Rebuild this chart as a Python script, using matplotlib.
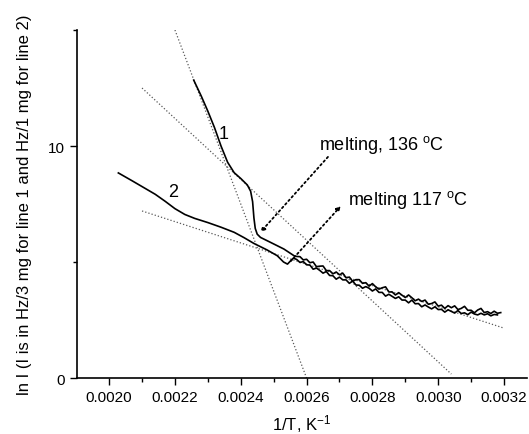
import matplotlib
matplotlib.use("Agg")
import matplotlib.pyplot as plt
from matplotlib.ticker import MultipleLocator, FormatStrFormatter

plt.rcParams['font.family'] = ['Liberation Sans', 'DejaVu Sans']
plt.rcParams['mathtext.fontset'] = 'custom'
plt.rcParams['mathtext.rm'] = 'Liberation Sans'
plt.rcParams['mathtext.it'] = 'Liberation Sans:italic'

# common 1/T grid of the noisy tail
tail_x = [0.00257, 0.00258, 0.00259, 0.00260, 0.00261, 0.00262, 0.00263, 0.00264,
          0.00265, 0.00266, 0.00267, 0.00268, 0.00269, 0.00270, 0.00271, 0.00272,
          0.00273, 0.00274, 0.00275, 0.00276, 0.00277, 0.00278, 0.00279, 0.00280,
          0.00281, 0.00282, 0.00283, 0.00284, 0.00285, 0.00286, 0.00287, 0.00288,
          0.00289, 0.00290, 0.00291, 0.00292, 0.00293, 0.00294, 0.00295, 0.00296,
          0.00297, 0.00298, 0.00299, 0.00300, 0.00301, 0.00302, 0.00303, 0.00304,
          0.00305, 0.00306, 0.00307, 0.00308, 0.00309, 0.00310, 0.00311, 0.00312,
          0.00313, 0.00314, 0.00315, 0.00316, 0.00317, 0.00318, 0.00319]

# line 1 (3 mg)
head1_x = [0.002257, 0.00228, 0.0023, 0.00232, 0.00234, 0.00236, 0.00238, 0.0024,
           0.00242, 0.00243, 0.002436, 0.00244, 0.002444, 0.00245, 0.00246, 0.00249,
           0.002531, 0.002562]
head1_y = [12.84, 12.15, 11.5, 10.8, 10.0, 9.3, 8.85, 8.6,
           8.32, 8.05, 7.6, 6.9, 6.45, 6.2, 6.06, 5.85,
           5.56, 5.27]
tail1_y = [5.24, 5.23, 5.09, 5.12, 4.97, 5.00, 4.80, 4.82, 4.83, 4.63, 4.63, 4.49,
           4.57, 4.45, 4.52, 4.32, 4.35, 4.17, 4.24, 4.24, 4.08, 4.11, 3.96, 4.07,
           3.93, 3.83, 3.89, 3.93, 3.71, 3.71, 3.58, 3.68, 3.57, 3.47, 3.58, 3.46,
           3.33, 3.40, 3.30, 3.36, 3.18, 3.21, 3.28, 3.10, 3.14, 3.00, 3.12, 3.03,
           3.11, 2.95, 3.00, 3.09, 2.92, 2.92, 2.81, 2.93, 3.00, 2.82, 2.86, 2.78,
           2.88, 2.79, 2.82]

# line 2 (1 mg)
head2_x = [0.002028, 0.00207, 0.002105, 0.00214, 0.00217, 0.0022, 0.00223, 0.00226,
           0.0023, 0.00234, 0.00238, 0.00241, 0.00244, 0.00248, 0.002511, 0.00253,
           0.002542, 0.002552, 0.00256]
head2_y = [8.84, 8.50, 8.21, 7.92, 7.62, 7.30, 7.05, 6.88,
           6.70, 6.50, 6.28, 6.05, 5.80, 5.52, 5.27, 5.0,
           4.91, 5.06, 5.17]
tail2_y = [5.11, 4.98, 5.02, 4.88, 4.87, 4.69, 4.74, 4.64, 4.52, 4.59, 4.42, 4.41,
           4.26, 4.35, 4.23, 4.23, 4.08, 4.18, 4.01, 4.00, 3.87, 3.94, 3.87, 3.75,
           3.84, 3.69, 3.69, 3.53, 3.61, 3.52, 3.43, 3.50, 3.36, 3.36, 3.24, 3.36,
           3.20, 3.21, 3.07, 3.15, 3.06, 2.98, 3.07, 2.95, 2.96, 2.84, 2.94, 2.87,
           2.80, 2.91, 2.78, 2.81, 2.73, 2.84, 2.76, 2.72, 2.79, 2.72, 2.77, 2.68,
           2.74, 2.72]

# dotted straight-line fits (two end points each)
fit_x = [[0.0022, 0.0026], [0.0021, 0.00304], [0.0021, 0.0032]]
fit_y = [[15.0, 0.0], [12.5, 0.17], [7.2, 2.15]]

fig = plt.figure(figsize=(5.29, 4.35), dpi=100)
ax = fig.add_axes([0.1456, 0.1287, 0.8507, 0.80])

for fx, fy in zip(fit_x, fit_y):
    ax.plot(fx, fy, ls=':', color='0.35', lw=0.9)

ax.plot(head1_x + tail_x, head1_y + tail1_y, color='black', lw=1.2)
ax.plot(head2_x + tail_x[:len(tail2_y)], head2_y + tail2_y, color='black', lw=1.2)

ax.text(0.002348, 10.52, '1', fontsize=13, ha='center', va='center')
ax.text(0.002195, 8.02, '2', fontsize=13, ha='center', va='center')

ax.annotate('', xy=(0.00246, 6.29), xytext=(0.002665, 9.53),
            arrowprops=dict(arrowstyle='-|>', ls=':', lw=1.3, color='black',
                            mutation_scale=6, shrinkA=0, shrinkB=0))
ax.annotate('', xy=(0.002704, 7.41), xytext=(0.002552, 5.04),
            arrowprops=dict(arrowstyle='-|>', ls=':', lw=1.3, color='black',
                            mutation_scale=6, shrinkA=0, shrinkB=0))
ax.text(0.002637, 9.87, r'melting, 136 $^{\mathrm{o}}$C', fontsize=13, va='baseline')
ax.text(0.002726, 7.5, r'melting 117 $^{\mathrm{o}}$C', fontsize=13, va='baseline')

ax.set_xlim(0.0019024, 0.00327)
ax.set_ylim(0, 15)
ax.xaxis.set_major_locator(MultipleLocator(0.0002))
ax.xaxis.set_minor_locator(MultipleLocator(0.0001))
ax.xaxis.set_major_formatter(FormatStrFormatter('%.4f'))
ax.yaxis.set_major_locator(MultipleLocator(10))
ax.yaxis.set_minor_locator(MultipleLocator(5))
ax.tick_params(which='major', direction='out', length=5, width=1, labelsize=11)
ax.tick_params(which='minor', direction='out', length=3, width=1)

ax.spines['top'].set_visible(False)
ax.spines['right'].set_visible(False)
ax.spines['left'].set_linewidth(1.2)
ax.spines['bottom'].set_linewidth(1.2)

ax.set_xlabel(r'1/T, K$^{\mathrm{-1}}$', fontsize=12, labelpad=6)
ax.set_ylabel('ln I (I is in Hz/3 mg for line 1 and Hz/1 mg for line 2)', fontsize=12, labelpad=12)

fig.savefig('out.png', dpi=100)
